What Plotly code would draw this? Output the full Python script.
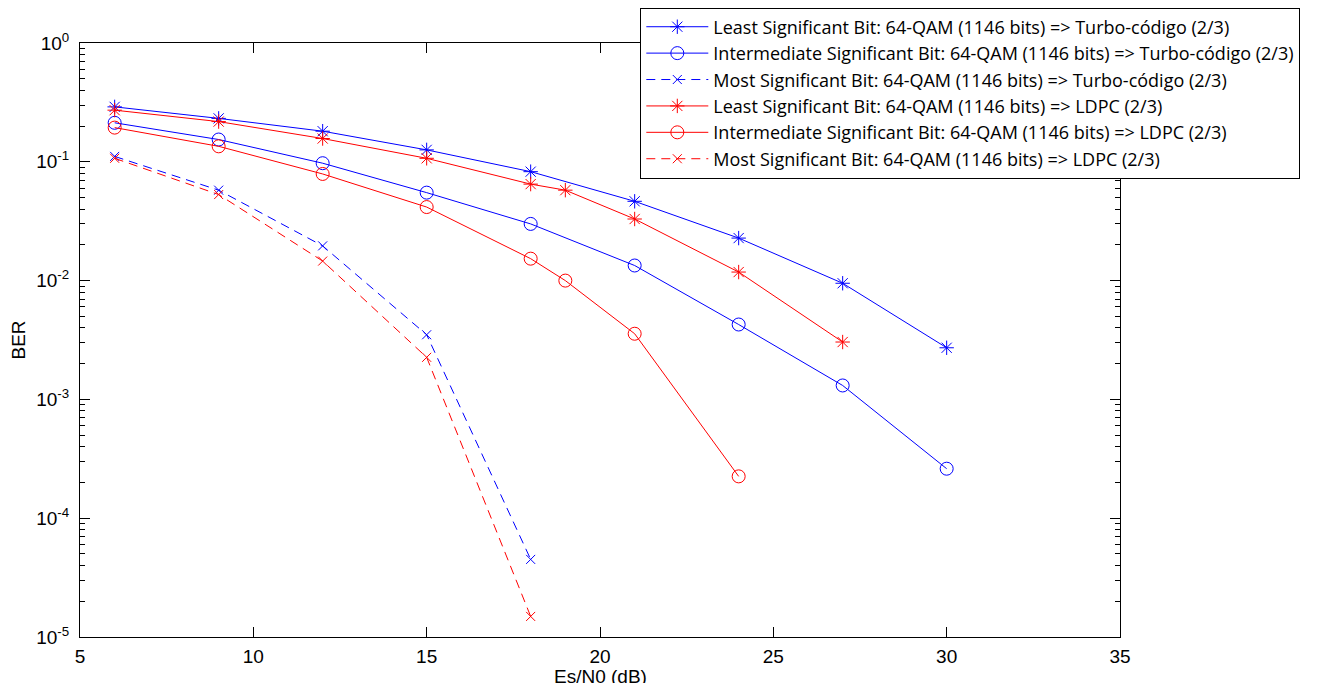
import plotly.graph_objects as go

# ---- data ----
x_main = [6, 9, 12, 15, 18, 21, 24, 27, 30]
lsb_turbo = [0.29, 0.232, 0.181, 0.126, 0.0826, 0.0465, 0.0228, 0.0095, 0.00272]
isb_turbo = [0.213, 0.154, 0.0973, 0.055, 0.030, 0.0134, 0.00427, 0.00131, 0.000261]

x_msb = [6, 9, 12, 15, 18]
msb_turbo = [0.111, 0.0577, 0.0196, 0.0035, 4.5e-5]
msb_ldpc = [0.107, 0.053, 0.0146, 0.00226, 1.49e-5]

x_lsb_ldpc = [6, 9, 12, 15, 18, 19, 21, 24, 27]
lsb_ldpc = [0.272, 0.218, 0.157, 0.107, 0.0649, 0.0577, 0.033, 0.0118, 0.00304]

x_isb_ldpc = [6, 9, 12, 15, 18, 19, 21, 24]
isb_ldpc = [0.194, 0.135, 0.079, 0.0416, 0.0153, 0.01, 0.00357, 0.000225]

names = [
    "Least Significant Bit: 64-QAM (1146 bits) => Turbo-código (2/3)",
    "Intermediate Significant Bit: 64-QAM (1146 bits) => Turbo-código (2/3)",
    "Most Significant Bit: 64-QAM (1146 bits) => Turbo-código (2/3)",
    "Least Significant Bit: 64-QAM (1146 bits) => LDPC (2/3)",
    "Intermediate Significant Bit: 64-QAM (1146 bits) => LDPC (2/3)",
    "Most Significant Bit: 64-QAM (1146 bits) => LDPC (2/3)",
]

y_exponents = [-5, -4, -3, -2, -1, 0]
y_ticktext = ["10<sup>%d</sup>" % e for e in y_exponents]
x_ticks = [5, 10, 15, 20, 25, 30, 35]
x_title = "Es/N0 (dB)"
y_title = "BER"

BLUE = "rgb(0,0,255)"
RED = "rgb(255,0,0)"
DASH = "9px,6px"

series = [
    (x_main, lsb_turbo, BLUE, "solid", "asterisk-open", 12),
    (x_main, isb_turbo, BLUE, "solid", "circle-open", 13),
    (x_msb, msb_turbo, BLUE, DASH, "x-thin-open", 9),
    (x_lsb_ldpc, lsb_ldpc, RED, "solid", "asterisk-open", 12),
    (x_isb_ldpc, isb_ldpc, RED, "solid", "circle-open", 13),
    (x_msb, msb_ldpc, RED, DASH, "x-thin-open", 9),
]

fig = go.Figure()
for i, (xs, ys, col, dash, sym, size) in enumerate(series):
    fig.add_trace(go.Scatter(
        x=xs, y=ys, name=names[i], mode="lines+markers",
        legendgroup="g%d" % i,
        line=dict(color=col, width=1, dash=dash),
        marker=dict(symbol=sym, size=size, color=col, line=dict(color=col, width=1)),
    ))

minor_vals = [k * 10.0 ** e for e in range(-5, 0) for k in range(2, 10)]

FONT = "Liberation Sans, Arial, sans-serif"
LEG_FONT = "Open Sans, Liberation Sans, Arial, sans-serif"
FS = 19
# page body has an 8px margin: figure is 8px smaller and margins shifted
fig.update_layout(
    width=1310, height=675,
    margin=dict(l=72, r=198, t=35, b=46, autoexpand=False),
    paper_bgcolor="white", plot_bgcolor="white",
    font=dict(family=FONT, size=FS, color="black"),
    showlegend=True,
    legend=dict(
        x=(636 - 80) / 1032, y=(629 - 8) / 586, xanchor="left", yanchor="top",
        bgcolor="white", bordercolor="black", borderwidth=1,
        font=dict(family=LEG_FONT, size=18.0, color="black"),
        tracegroupgap=0, itemwidth=62,
    ),
    xaxis=dict(
        range=[5, 35], tickmode="array", tickvals=x_ticks,
        ticks="inside", ticklen=10, tickcolor="black",
        showline=True, linecolor="black", linewidth=1, mirror="ticks",
        showgrid=False, zeroline=False, ticklabelstandoff=2,
        tickfont=dict(size=FS),
    ),
    yaxis=dict(
        type="log", range=[-5, 0], tickmode="array",
        tickvals=[10.0 ** e for e in y_exponents], ticktext=y_ticktext,
        ticks="inside", ticklen=10, tickcolor="black",
        showline=True, linecolor="black", linewidth=1, mirror="ticks",
        showgrid=False, zeroline=False, ticklabelstandoff=6,
        minor=dict(ticks="inside", ticklen=5, tickcolor="black",
                   tickmode="array", tickvals=minor_vals, showgrid=False),
        title=dict(text=y_title, standoff=8, font=dict(size=FS)),
        tickfont=dict(size=FS),
    ),
    annotations=[dict(
        text=x_title, xref="paper", yref="paper", x=0.5, y=0,
        xanchor="center", yanchor="middle", yshift=-39, showarrow=False,
        font=dict(family=FONT, size=FS, color="black"),
    )],
)

fig.write_html("out.html")
